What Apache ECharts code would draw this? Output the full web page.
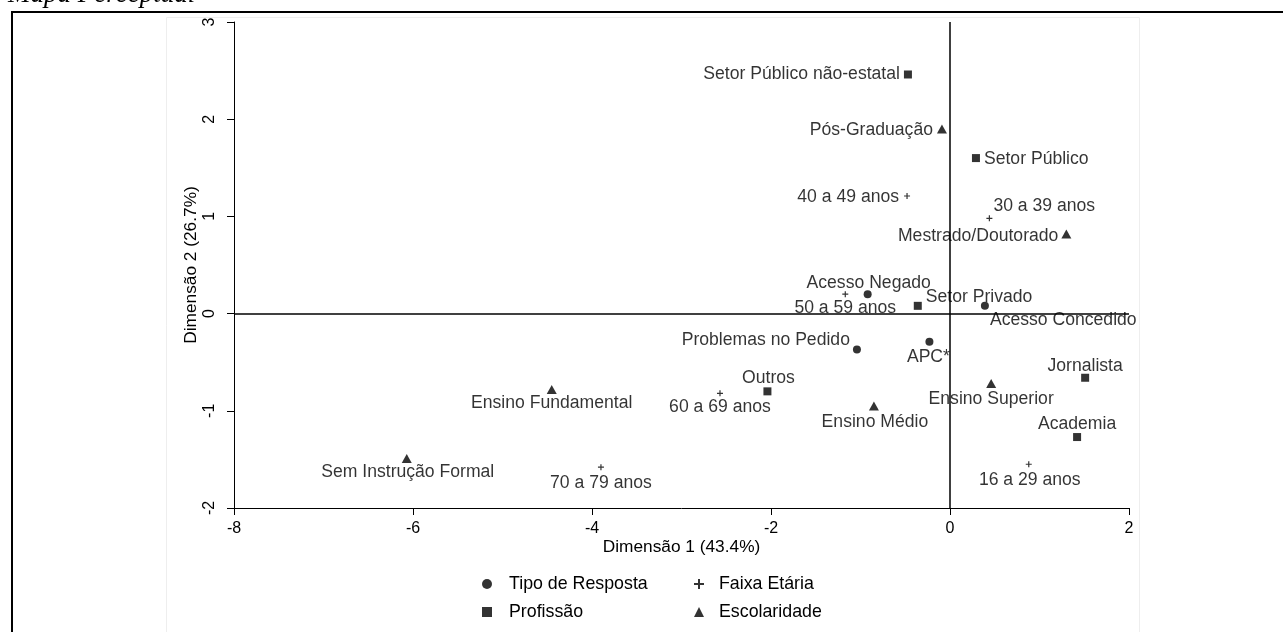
<!DOCTYPE html>
<html>
<head>
<meta charset="utf-8">
<script src="https://cdn.jsdelivr.net/npm/echarts@6/dist/echarts.min.js"></script>
<style>
  html, body { margin: 0; padding: 0; background: #fff; }
  #chart { width: 1283px; height: 632px; }
</style>
</head>
<body>
<div id="chart"></div>
<script>
// Coordinates of each category on the two dimensions
const tipoNames = ['Acesso Negado', 'Acesso Concedido', 'Problemas no Pedido', 'APC*'];
const tipoX = [-0.92, 0.39, -1.04, -0.23];
const tipoY = [0.20, 0.08, -0.37, -0.29];

const profNames = ['Setor Público não-estatal', 'Setor Público', 'Setor Privado', 'Outros', 'Jornalista', 'Academia'];
const profX = [-0.47, 0.29, -0.36, -2.04, 1.51, 1.42];
const profY = [2.46, 1.60, 0.08, -0.80, -0.66, -1.27];

const idadeNames = ['16 a 29 anos', '30 a 39 anos', '40 a 49 anos', '50 a 59 anos', '60 a 69 anos', '70 a 79 anos'];
const idadeX = [0.88, 0.44, -0.48, -1.17, -2.57, -3.90];
const idadeY = [-1.55, 0.98, 1.21, 0.20, -0.82, -1.58];

const escNames = ['Sem Instrução Formal', 'Ensino Fundamental', 'Ensino Médio', 'Ensino Superior', 'Pós-Graduação', 'Mestrado/Doutorado'];
const escX = [-6.07, -4.45, -0.85, 0.46, -0.09, 1.30];
const escY = [-1.49, -0.78, -0.95, -0.72, 1.90, 0.82];

const xTicks = [-8, -6, -4, -2, 0, 2];
const yTicks = [-2, -1, 0, 1, 2, 3];

const groupNames = ['Tipo de Resposta', 'Profissão', 'Faixa Etária', 'Escolaridade'];

// Label anchor for each point: text alignment and shift from the marker centre
const labelPlace = {
  'Acesso Negado':            ['center', 1, -11],
  'Acesso Concedido':         ['left', 5, 14],
  'Problemas no Pedido':      ['right', -7, -9],
  'APC*':                     ['center', -1, 15],
  'Setor Público não-estatal':['right', -8, 0],
  'Setor Público':            ['left', 8, 1],
  'Setor Privado':            ['left', 8, -9],
  'Outros':                   ['center', 1, -13],
  'Jornalista':               ['center', 0, -12],
  'Academia':                 ['center', 0, -13],
  '16 a 29 anos':             ['center', 1, 16],
  '30 a 39 anos':             ['left', 4, -12],
  '40 a 49 anos':             ['right', -8, 1],
  '50 a 59 anos':             ['center', 0, 14],
  '60 a 69 anos':             ['center', 0, 14],
  '70 a 79 anos':             ['center', 0, 16],
  'Sem Instrução Formal':     ['center', 1, 14],
  'Ensino Fundamental':       ['center', 0, 14],
  'Ensino Médio':             ['center', 1, 16],
  'Ensino Superior':          ['center', 0, 16],
  'Pós-Graduação':            ['right', -9, 1],
  'Mestrado/Doutorado':       ['right', -8, 2]
};

const SANS = '"Liberation Sans", Arial, Helvetica, sans-serif';
const PLUS = 'path://M2,0H3V2H5V3H3V5H2V3H0V2H2Z';

// size = [w, h] of the marker; label position is measured from its top-left corner
function buildPoints(names, xs, ys, size) {
  const cx = size[0] / 2, cy = size[1] / 2;
  return names.map((n, i) => {
    const p = labelPlace[n];
    return {
      name: n,
      value: [xs[i], ys[i]],
      label: {
        show: true,
        position: [cx + p[1], cy + p[2]],
        align: p[0],
        verticalAlign: 'middle',
        formatter: '{b}',
        color: '#000',
        fontSize: 17.6,
        fontFamily: SANS,
        textBorderWidth: 0
      }
    };
  });
}

const chart = echarts.init(document.getElementById('chart'), null, { renderer: 'canvas' });

const baseSeries = {
  type: 'scatter',
  itemStyle: { color: '#000' },
  emphasis: { disabled: true },
  labelLayout: { hideOverlap: false }
};

// one legend block per group, laid out as a 2 x 2 key
const legendCells = [
  { name: groupNames[0], icon: 'circle',   cx: 487, cy: 585, pad: 12 },
  { name: groupNames[1], icon: 'rect',     cx: 487, cy: 613, pad: 12 },
  { name: groupNames[2], icon: PLUS,       cx: 699, cy: 585, pad: 10 },
  { name: groupNames[3], icon: 'triangle', cx: 699, cy: 613, pad: 10 }
];

const SIZE_CIRCLE = [8, 8], SIZE_RECT = [8, 8], SIZE_PLUS = [6, 6], SIZE_TRI = [10, 9];

chart.setOption({
  animation: false,
  backgroundColor: '#fff',
  grid: { left: 234, right: 154, top: 22, bottom: 124, containLabel: false },
  xAxis: {
    type: 'value',
    min: xTicks[0],
    max: xTicks[xTicks.length - 1],
    interval: 2,
    name: 'Dimensão 1 (43.4%)',
    nameLocation: 'middle',
    nameGap: 31,
    nameMoveOverlap: false,
    nameTextStyle: { color: '#000', fontSize: 17.3, fontFamily: SANS },
    axisLine: { onZero: false, lineStyle: { color: '#000', width: 1 } },
    axisTick: { show: true, length: 7, lineStyle: { color: '#000' } },
    axisLabel: { color: '#000', fontSize: 16, fontFamily: SANS, margin: 13 },
    splitLine: { show: false }
  },
  yAxis: {
    type: 'value',
    min: yTicks[0],
    max: yTicks[yTicks.length - 1],
    interval: 1,
    name: 'Dimensão 2 (26.7%)',
    nameLocation: 'middle',
    nameRotate: 90,
    nameGap: 34,
    nameMoveOverlap: false,
    nameTextStyle: { color: '#000', fontSize: 17.3, fontFamily: SANS },
    axisLine: { onZero: false, lineStyle: { color: '#000', width: 1 } },
    axisTick: { show: true, length: 7, lineStyle: { color: '#000' } },
    axisLabel: { color: '#000', fontSize: 16, fontFamily: SANS, rotate: 90, margin: 16 },
    splitLine: { show: false }
  },
  legend: legendCells.map(c => ({
    left: c.cx - 5,
    top: c.cy - 10,
    orient: 'horizontal',
    padding: 0,
    itemWidth: 10, itemHeight: 10,
    textStyle: { color: '#000', fontSize: 17.8, fontFamily: SANS, padding: [0, 0, 0, c.pad] },
    selectedMode: false,
    data: [{ name: c.name, icon: c.icon }]
  })),
  graphic: [
    {
      type: 'rect', z: -1, silent: true,
      shape: { x: 166.5, y: 17.5, width: 973, height: 700 },
      style: { fill: 'none', stroke: '#eeeeee', lineWidth: 1 }
    },
    {
      type: 'rect', silent: true,
      shape: { x: 12, y: 12, width: 1400, height: 800 },
      style: { fill: 'none', stroke: '#000', lineWidth: 2 }
    },
    {
      type: 'text', silent: true, x: 8, y: 8,
      style: {
        text: 'Mapa Perceptual',
        fill: '#000',
        font: 'italic 27px "Liberation Serif", "Times New Roman", serif',
        verticalAlign: 'bottom'
      }
    }
  ],
  series: [
    Object.assign({}, baseSeries, {
      name: groupNames[0],
      symbol: 'circle', symbolSize: SIZE_CIRCLE,
      data: buildPoints(tipoNames, tipoX, tipoY, SIZE_CIRCLE),
      markLine: {
        silent: true,
        symbol: 'none',
        label: { show: false },
        lineStyle: { color: '#000', width: 1.5, type: 'solid' },
        data: [{ xAxis: 0 }, { yAxis: 0 }]
      }
    }),
    Object.assign({}, baseSeries, {
      name: groupNames[1],
      symbol: 'rect', symbolSize: SIZE_RECT,
      data: buildPoints(profNames, profX, profY, SIZE_RECT)
    }),
    Object.assign({}, baseSeries, {
      name: groupNames[2],
      symbol: PLUS, symbolSize: SIZE_PLUS,
      data: buildPoints(idadeNames, idadeX, idadeY, SIZE_PLUS)
    }),
    Object.assign({}, baseSeries, {
      name: groupNames[3],
      symbol: 'triangle', symbolSize: SIZE_TRI,
      data: buildPoints(escNames, escX, escY, SIZE_TRI)
    })
  ]
});
</script>
</body>
</html>
